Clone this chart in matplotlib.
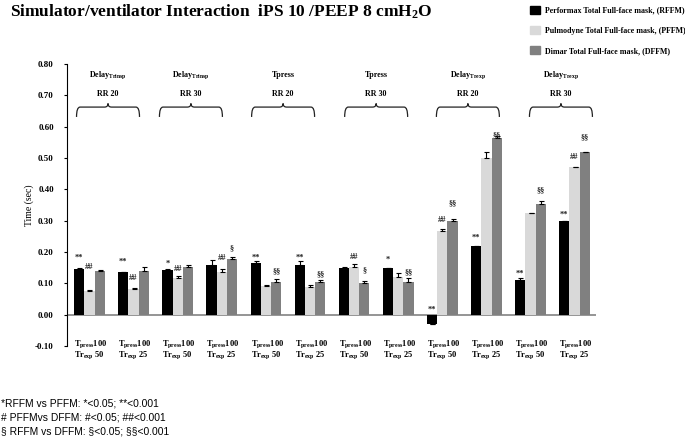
import numpy as np
import matplotlib.pyplot as plt
from matplotlib.path import Path
from matplotlib.patches import PathPatch, Patch

plt.rcParams['font.family'] = 'Liberation Serif'
plt.rcParams['font.weight'] = 'bold'
plt.rcParams['mathtext.fontset'] = 'custom'
plt.rcParams['mathtext.rm'] = 'Liberation Serif:bold'
plt.rcParams['mathtext.it'] = 'Liberation Serif:bold'
plt.rcParams['mathtext.bf'] = 'Liberation Serif:bold'
plt.rcParams['mathtext.default'] = 'rm'

# Datos
series = ['Performax Total Full-face mask, (RFFM)',
          'Pulmodyne Total Full-face mask, (PFFM)',
          'Dimar Total Full-face mask, (DFFM)']
rffm = [0.146, 0.135, 0.142, 0.158, 0.164, 0.158, 0.148, 0.148, -0.031, 0.218, 0.111, 0.298]
pffm = [0.076, 0.081, 0.118, 0.136, 0.093, 0.089, 0.152, 0.119, 0.268, 0.501, 0.323, 0.470]
dffm = [0.140, 0.139, 0.153, 0.177, 0.105, 0.105, 0.102, 0.105, 0.300, 0.563, 0.353, 0.520]
rffm_err = [0.004, 0.0, 0.005, 0.016, 0.006, 0.012, 0.005, 0.0, 0.0, 0.0, 0.006, 0.0]
pffm_err = [0.002, 0.005, 0.005, 0.009, 0.001, 0.007, 0.010, 0.013, 0.006, 0.017, 0.001, 0.0]
dffm_err = [0.001, 0.013, 0.006, 0.006, 0.008, 0.007, 0.007, 0.012, 0.006, 0.008, 0.011, 0.0]

rffm_sig = ['**', '**', '*', '', '**', '**', '', '*', '**', '**', '**', '**']
pffm_sig = ['##', '##', '##', '##', '', '', '##', '', '##', '', '', '##']
dffm_sig = ['', '', '', '§', '§§', '§§', '§', '§§', '§§', '§§', '§§', '§§']
rffm_sig_y = [0.182, 0.168, 0.162, 0, 0.183, 0.183, 0, 0.174, 0.015, 0.244, 0.132, 0.320]
pffm_sig_y = [0.153, 0.118, 0.146, 0.181, 0, 0, 0.185, 0, 0.302, 0, 0, 0.502]
dffm_sig_y = [0, 0, 0, 0.211, 0.139, 0.130, 0.143, 0.135, 0.355, 0.573, 0.398, 0.565]

tick_top = ['T$_{press}$100'] * 12
tick_bottom = ['Tr$_{exp}$ 50', 'Tr$_{exp}$ 25'] * 6

brace_top = ['Delay$_{Trinsp}$', 'Delay$_{Trinsp}$', 'Tpress', 'Tpress',
             'Delay$_{Trexp}$', 'Delay$_{Trexp}$']
brace_rr = ['RR 20', 'RR 30', 'RR 20', 'RR 30', 'RR 20', 'RR 30']
brace_x = [0.42, 2.30, 4.39, 6.50, 8.58, 10.69]

colors = ['#000000', '#d9d9d9', '#808080']

fig = plt.figure(figsize=(6.85, 4.37), dpi=100)
ax = fig.add_axes([67/685, 1-346/437, (596-67)/685, (346-64)/437])

x = np.arange(len(rffm))
w = 0.232
ekw = dict(ecolor='black', elinewidth=0.8, capsize=1.8, capthick=0.8)
vals = [rffm, pffm, dffm]
errs = [rffm_err, pffm_err, dffm_err]
sigs = [rffm_sig, pffm_sig, dffm_sig]
sig_ys = [rffm_sig_y, pffm_sig_y, dffm_sig_y]
for k in range(3):
    ax.bar(x + (k-1)*w, vals[k], w, color=colors[k], zorder=3,
           yerr=[np.zeros(len(x)), errs[k]], error_kw=ekw)
    for i in range(len(x)):
        if sigs[k][i]:
            ax.text(x[i] + (k-1)*w, sig_ys[k][i], sigs[k][i], ha='center', va='center',
                    fontsize=6, color='#222222', zorder=4)

ax.axhline(0, color='#8c8c8c', lw=1.3, zorder=2)
ax.set_xlim(-0.51, 11.485)
ax.set_ylim(-0.10, 0.80)
ax.set_yticks(np.arange(-0.1, 0.81, 0.1))
ax.set_yticklabels([f'{v:.2f}' for v in np.arange(-0.1, 0.81, 0.1)], fontsize=6.5)
ax.tick_params(axis='y', direction='out', length=2.5, width=0.8, pad=7)
ax.set_xticks([])
for s in ['top', 'right', 'bottom']:
    ax.spines[s].set_visible(False)
ax.spines['left'].set_linewidth(0.8)
ax.set_ylabel('Time (sec)', fontsize=7)
ax.yaxis.set_label_coords(-0.062, 0.5)

# etiquetas bajo cada grupo
for i in range(len(x)):
    ax.text(x[i] - 1.5*w, -0.098, tick_top[i], ha='left', va='baseline', fontsize=6, clip_on=False)
    ax.text(x[i] - 1.5*w, -0.135, tick_bottom[i], ha='left', va='baseline', fontsize=6, clip_on=False)

# llaves
hw = 0.714
yb, ylo, ypk = 0.6625, 0.631, 0.674
for c, t1, t2 in zip(brace_x, brace_top, brace_rr):
    x0, x1 = c - hw, c + hw
    verts = [(x0, ylo), (x0, yb), (x0 + 0.08, yb), (c - 0.08, yb), (c, yb), (c, ypk),
             (c, yb), (c + 0.08, yb), (x1 - 0.08, yb), (x1, yb), (x1, ylo)]
    codes = [Path.MOVETO, Path.CURVE3, Path.CURVE3, Path.LINETO, Path.CURVE3, Path.CURVE3,
             Path.CURVE3, Path.CURVE3, Path.LINETO, Path.CURVE3, Path.CURVE3]
    ax.add_patch(PathPatch(Path(verts, codes), fill=False, lw=0.9, edgecolor='#222222'))
    ax.text(c, 0.759, t1, ha='center', va='baseline', fontsize=5.8)
    ax.text(c, 0.699, t2, ha='center', va='baseline', fontsize=5.8)

fig.text(0.015, 1-12/437, 'Simulator/ventilator Interaction  iPS 10 /PEEP 8 cmH$_2$O',
         fontsize=12.5, va='center', ha='left')

handles = [Patch(color=c) for c in colors]
fig.legend(handles, series, loc='upper left', bbox_to_anchor=(530/685, 1-6/437),
           frameon=False, prop={'family': 'Liberation Serif', 'weight': 'bold', 'size': 5.7},
           handlelength=1.25, handleheight=1.15, labelspacing=1.45, handletextpad=0.65,
           borderpad=0, borderaxespad=0)

notas = ['*RFFM vs PFFM: *<0.05; **<0.001',
         '# PFFMvs DFFM: #<0.05; ##<0.001',
         '§ RFFM vs DFFM: §<0.05; §§<0.001']
for j, n in enumerate(notas):
    fig.text(0.002, 1-(403 + 14.5*j)/437, n, fontsize=7.4, family='Liberation Sans',
             weight='normal', va='center', ha='left')

fig.savefig('out.png', dpi=100)
